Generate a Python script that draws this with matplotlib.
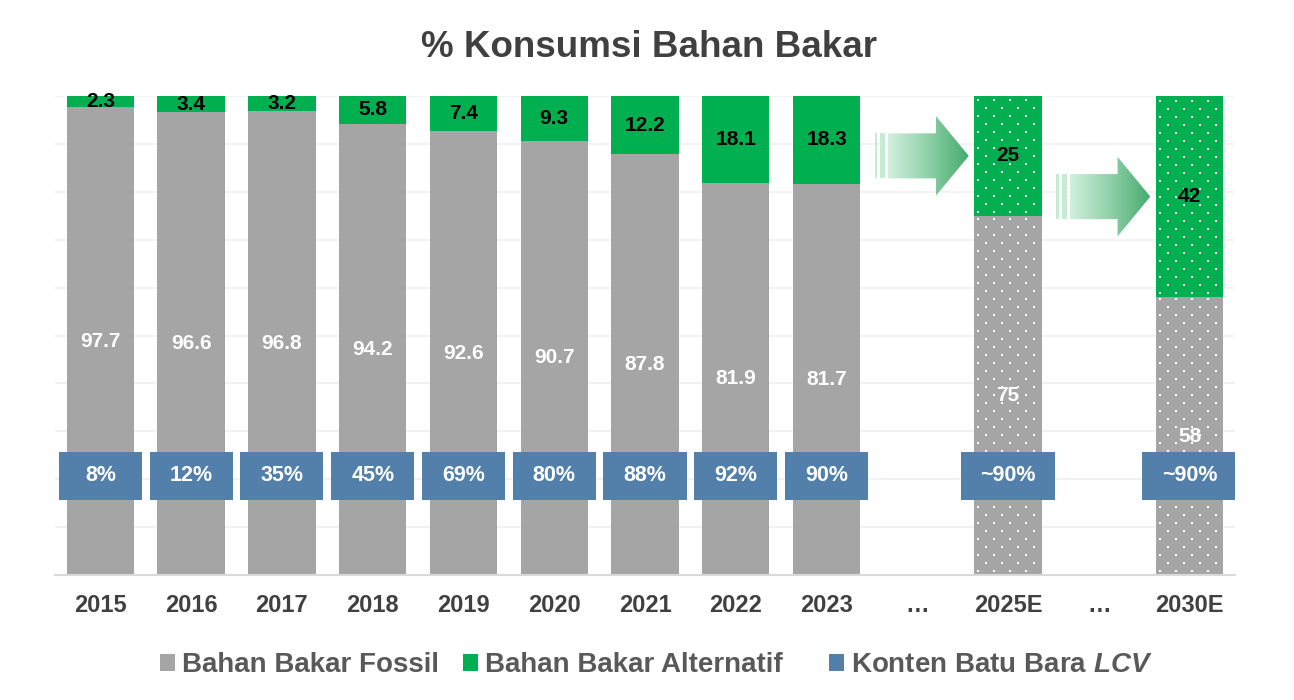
import numpy as np
import matplotlib.pyplot as plt
from matplotlib.patches import Patch, Polygon, Rectangle
from matplotlib.colors import LinearSegmentedColormap

plt.rcParams['font.family'] = ['Liberation Sans', 'DejaVu Sans']
plt.rcParams['font.weight'] = 'bold'
plt.rcParams['mathtext.fontset'] = 'custom'
plt.rcParams['mathtext.it'] = 'Liberation Sans:italic:bold'
plt.rcParams['mathtext.rm'] = 'Liberation Sans:bold'

# data (None = kolom jeda "…")
categories = ['2015', '2016', '2017', '2018', '2019', '2020', '2021', '2022', '2023',
              '…', '2025E', '…', '2030E']
fossil = [97.7, 96.6, 96.8, 94.2, 92.6, 90.7, 87.8, 81.9, 81.7, None, 75, None, 58]
alternatif = [2.3, 3.4, 3.2, 5.8, 7.4, 9.3, 12.2, 18.1, 18.3, None, 25, None, 42]
lcv_labels = ['8%', '12%', '35%', '45%', '69%', '80%', '88%', '92%', '90%',
              None, '~90%', None, '~90%']
legend_labels = ['Bahan Bakar Fossil', 'Bahan Bakar Alternatif', 'Konten Batu Bara $\\mathit{LCV}$']
is_estimate = [c.endswith('E') for c in categories]

GRAY = '#A5A5A5'
GREEN = '#00B050'
BLUE = '#537FAB'
TXT = '#404040'

fig = plt.figure(figsize=(12.94, 7.0), dpi=100)
ax = fig.add_axes([55 / 1294, 1 - 575 / 700, (1235 - 55) / 1294, (575 - 96) / 700])
ax.set_xlim(-0.5, 12.5)
ax.set_ylim(0, 100)


def add_dots(ax, rect):
    """pola titik putih (tekstur estimasi), jarak 16 px x 8 px"""
    (x0, y0), (x1, y1) = ax.transData.transform([(rect.get_x(), rect.get_y()),
                                                 (rect.get_x() + rect.get_width(),
                                                  rect.get_y() + rect.get_height())])
    pts = []
    for r, py in enumerate(np.arange(y0 + 4, y1, 8)):
        off = 4 if r % 2 == 0 else 12
        for px in np.arange(x0 + off, x1, 16):
            pts.append((px, py))
    pts = ax.transData.inverted().transform(np.array(pts))
    sc = ax.scatter(pts[:, 0], pts[:, 1], s=1.6, marker='s', color='white', linewidths=0, zorder=2.5)
    sc.set_clip_path(rect)


idx = [i for i, v in enumerate(fossil) if v is not None]
bar_w = 0.742

for i in idx:
    b1 = ax.bar(i, fossil[i], width=bar_w, color=GRAY, linewidth=0, zorder=2)
    b2 = ax.bar(i, alternatif[i], bottom=fossil[i], width=bar_w, color=GREEN, linewidth=0, zorder=2)
    if is_estimate[i]:
        add_dots(ax, b1.patches[0])
        add_dots(ax, b2.patches[0])

    # label nilai
    ax.text(i, fossil[i] / 2, f'{fossil[i]:g}', ha='center', va='center', color='white',
            fontsize=15, fontweight='bold', zorder=5)
    ax.text(i, fossil[i] + alternatif[i] / 2, f'{alternatif[i]:g}', ha='center', va='center',
            color='black', fontsize=15, fontweight='bold', zorder=5)

    # kotak konten batu bara LCV
    bw = 1.044 if is_estimate[i] else 0.915
    ax.add_patch(Rectangle((i - bw / 2, 20.7 - 5), bw, 10, facecolor=BLUE, edgecolor='none', zorder=4))
    ax.text(i, 20.7, lcv_labels[i], ha='center', va='center', color='white',
            fontsize=15.5, fontweight='bold', zorder=5)

# panah gradasi menuju estimasi
arrow_cmap = LinearSegmentedColormap.from_list('arr', ['#D3F0DE', '#8FD0A8', '#45AA6C'])


def draw_arrow(ax, x0, yc):
    body, head = 4.7, 8.3
    xb, xh, xt = x0 + 0.147, x0 + 0.676, x0 + 1.037
    poly = Polygon([(xb, yc - body), (xh, yc - body), (xh, yc - head), (xt, yc),
                    (xh, yc + head), (xh, yc + body), (xb, yc + body)],
                   closed=True, facecolor='none', edgecolor='none', zorder=3)
    ax.add_patch(poly)
    grad = np.linspace(0, 1, 256).reshape(1, -1)
    im = ax.imshow(grad, cmap=arrow_cmap, aspect='auto', extent=(xb, xt, yc - head, yc + head),
                   zorder=3, interpolation='bilinear')
    im.set_clip_path(poly)
    for s0, s1 in [(0.0, 0.026), (0.059, 0.114)]:
        ax.add_patch(Rectangle((x0 + s0, yc - body), s1 - s0, 2 * body,
                               facecolor='#C6EAD3', edgecolor='none', zorder=3))


for src, dst in [(8, 10), (10, 12)]:
    draw_arrow(ax, src + 0.53, fossil[dst] + alternatif[dst] / 2)

ax.set_xlim(-0.5, 12.5)
ax.set_ylim(0, 100)
ax.set_yticks(np.arange(10, 101, 10))
ax.set_yticklabels([])
ax.grid(axis='y', color='#F0F0F0', linewidth=1.2, zorder=0)
ax.set_axisbelow(True)
ax.tick_params(axis='y', length=0)
ax.tick_params(axis='x', length=0, pad=14)
ax.set_xticks(range(len(categories)))
ax.set_xticklabels(categories, fontsize=17, fontweight='bold', color=TXT)
for s in ['top', 'right', 'left']:
    ax.spines[s].set_visible(False)
ax.spines['bottom'].set_color('#D9D9D9')
ax.spines['bottom'].set_linewidth(1.5)

fig.text(0.5015, 1 - 56.7 / 700, '% Konsumsi Bahan Bakar', ha='center', va='baseline',
         fontsize=26.5, fontweight='bold', color=TXT)

# legenda: tiap entri dipasang sendiri (jaraknya tidak seragam)
for color, label, left_px in zip([GRAY, GREEN, BLUE], legend_labels, [160, 463, 829]):
    leg = fig.legend([Patch(facecolor=color)], [label], loc='center left',
                     bbox_to_anchor=(left_px / 1294, 0.05), frameon=False,
                     borderpad=0, borderaxespad=0, handlelength=0.55, handleheight=0.55,
                     handletextpad=0.25, prop={'size': 20, 'weight': 'bold'})
    leg.get_texts()[0].set_color('#595959')

fig.savefig('out.png', dpi=100)
